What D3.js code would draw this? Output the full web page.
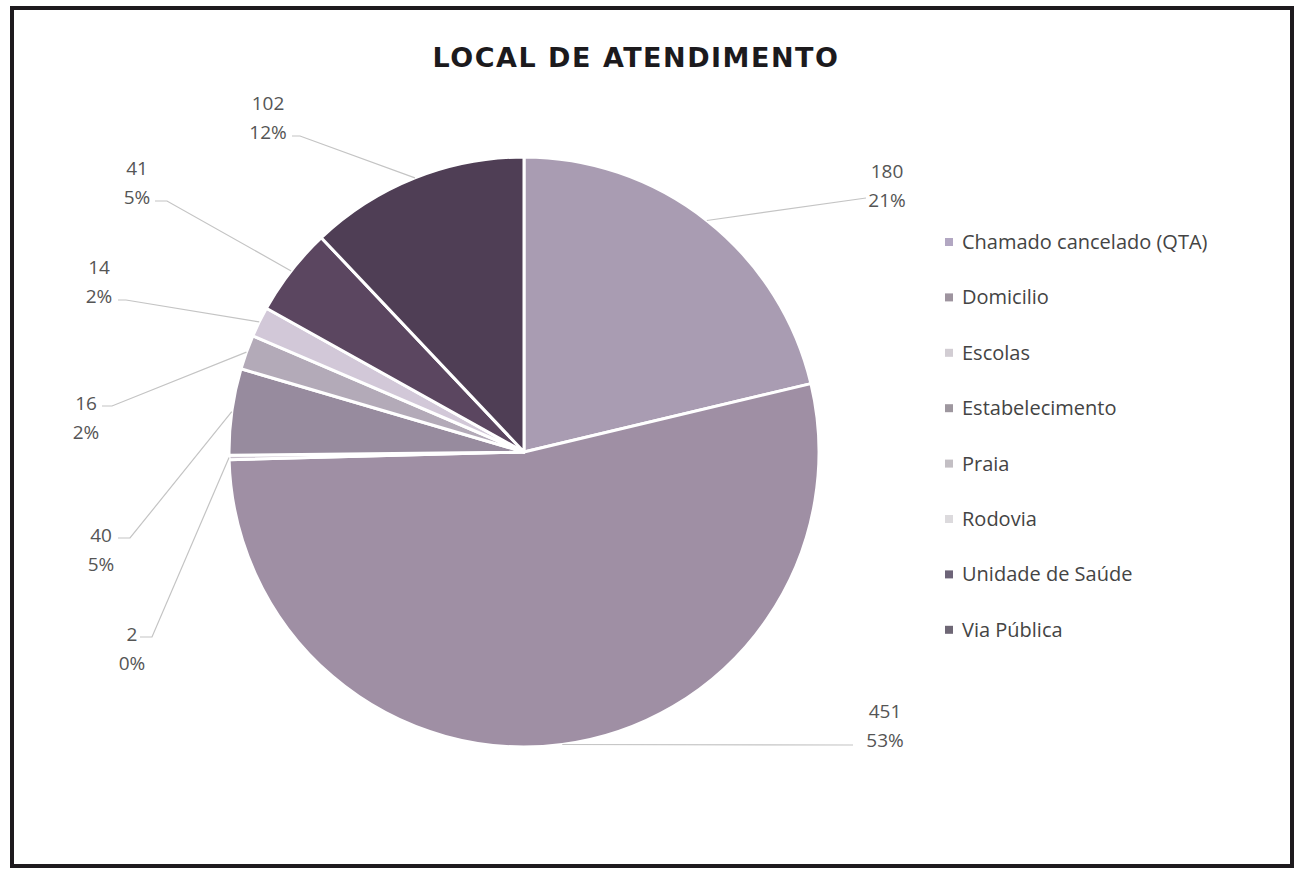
<!DOCTYPE html>
<html>
<head>
<meta charset="utf-8">
<script src="https://cdn.jsdelivr.net/npm/d3@7"></script>
<style>
  html, body { margin: 0; padding: 0; background: #fff; }
  svg { display: block; }
</style>
</head>
<body>
<svg id="chart" width="1299" height="871"></svg>
<script>
// ---- data ----
const categories = ["Chamado cancelado (QTA)", "Domicilio", "Escolas", "Estabelecimento", "Praia", "Rodovia", "Unidade de Saúde", "Via Pública"];
const values = [180, 451, 2, 40, 16, 14, 41, 102];
const percentLabels = ["21%", "53%", "0%", "5%", "2%", "2%", "5%", "12%"];
const title = "LOCAL DE ATENDIMENTO";

// ---- style / layout ----
const colors = ["#a99cb2", "#9f8fa4", "#c9bfcc", "#978b9e", "#b3aab8", "#d2c8d8", "#5b4660", "#4f3e55"];
const legendColors = ["#b2a7c2", "#9e949f", "#d2cdd3", "#9e979f", "#c3bfc4", "#dcdadd", "#6d6478", "#6e6775"];
// label text centre x, first-line baseline y, leader start
const labelLayout = [
  {x: 887, y: 178, lx: 866, ly: 198, hx: 866},
  {x: 885, y: 718, lx: 853, ly: 745, hx: 853},
  {x: 132, y: 641, lx: 140, ly: 637, hx: 152},
  {x: 101, y: 542, lx: 118, ly: 538, hx: 130},
  {x: 86,  y: 410, lx: 102, ly: 406, hx: 112},
  {x: 99,  y: 274, lx: 118, ly: 300, hx: 126},
  {x: 137, y: 175, lx: 155, ly: 201, hx: 167},
  {x: 268, y: 110, lx: 292, ly: 136, hx: 300}
];

const svg = d3.select("#chart");
const W = 1299, H = 871;

svg.append("rect").attr("x", 0).attr("y", 0).attr("width", W).attr("height", H).attr("fill", "#fff");
svg.append("rect")
  .attr("x", 12).attr("y", 8).attr("width", 1280).attr("height", 858)
  .attr("fill", "none").attr("stroke", "#1e1a1e").attr("stroke-width", 4);

svg.append("text")
  .attr("x", 636).attr("y", 67)
  .attr("text-anchor", "middle")
  .attr("font-family", "DejaVu Sans, Verdana, sans-serif")
  .attr("font-weight", "bold")
  .attr("font-size", 27)
  .attr("letter-spacing", 1.5)
  .attr("fill", "#1c1a1d")
  .text(title);

const cx = 524, cy = 452, R = 295;
const g = svg.append("g").attr("transform", `translate(${cx},${cy})`);

const pie = d3.pie().sort(null).value(d => d)(values);
const arc = d3.arc().innerRadius(0).outerRadius(R);
const edge = d3.arc().innerRadius(R).outerRadius(R);

g.selectAll("path.slice")
  .data(pie)
  .join("path")
  .attr("class", "slice")
  .attr("d", arc)
  .attr("fill", (d, i) => colors[i])
  .attr("stroke", "#ffffff")
  .attr("stroke-width", 3)
  .attr("stroke-linejoin", "round");

// leader lines
pie.forEach((d, i) => {
  const L = labelLayout[i];
  const [px, py] = edge.centroid(d);
  svg.append("polyline")
    .attr("points", `${L.lx},${L.ly} ${L.hx},${L.ly} ${px + cx},${py + cy}`)
    .attr("fill", "none")
    .attr("stroke", "#c4c4c4")
    .attr("stroke-width", 1.2);
});

// labels
pie.forEach((d, i) => {
  const L = labelLayout[i];
  const t = svg.append("text")
    .attr("text-anchor", "middle")
    .attr("font-family", "Open Sans, sans-serif")
    .attr("font-size", 19)
    .attr("fill", "#555555");
  t.append("tspan").attr("x", L.x).attr("y", L.y).text(values[i]);
  t.append("tspan").attr("x", L.x).attr("y", L.y + 29).text(percentLabels[i]);
});

// legend
const leg = svg.append("g");
categories.forEach((c, i) => {
  const y = 249 + i * 55.4;
  leg.append("rect")
    .attr("x", 945).attr("y", y - 11).attr("width", 8).attr("height", 8)
    .attr("fill", legendColors[i]);
  leg.append("text")
    .attr("x", 962).attr("y", y)
    .attr("font-family", "Open Sans, sans-serif")
    .attr("font-size", 20)
    .attr("fill", "#444444")
    .text(c);
});
</script>
</body>
</html>
